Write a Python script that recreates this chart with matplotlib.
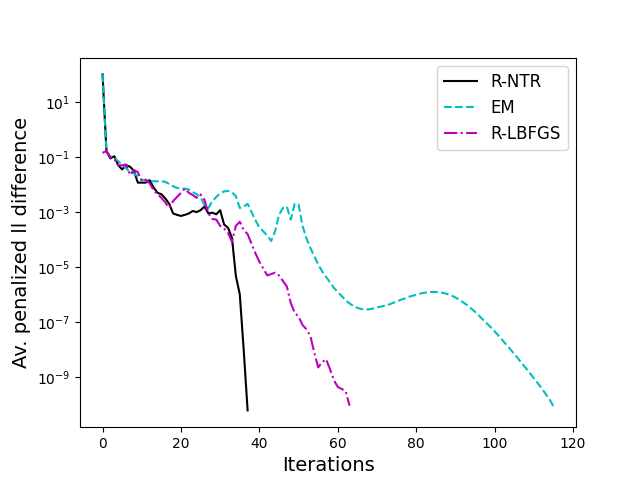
import numpy as np
import matplotlib
matplotlib.use("Agg")
import matplotlib.pyplot as plt

# log10 of the averaged penalized ll difference
rntr_log = [2.0, -0.8, -1.05, -0.97, -1.3, -1.45, -1.3, -1.35, -1.5, -1.93,
            -1.93, -1.93, -1.84, -2.1, -2.3, -2.35, -2.5, -2.7, -3.05, -3.1,
            -3.14, -3.1, -3.05, -2.96, -3.0, -2.93, -2.8, -3.05, -3.02, -3.08,
            -2.93, -3.45, -3.57, -3.93, -5.32, -5.98, -8.0, -10.2]

em_log = [2.0, -0.8, -1.0, -1.05, -1.15, -1.27, -1.4, -1.55, -1.6, -1.7,
          -1.82, -1.85, -1.87, -1.88, -1.88, -1.88, -1.9, -1.98, -2.06, -2.12,
          -2.15, -2.15, -2.18, -2.27, -2.35, -2.45, -2.75, -2.85, -2.6, -2.45,
          -2.32, -2.25, -2.23, -2.28, -2.42, -2.85, -2.8, -2.7, -3.0, -3.3,
          -3.55, -3.7, -3.85, -4.05, -3.7, -3.1, -2.85, -2.8, -3.27, -2.7,
          -2.72, -3.5, -3.95, -4.3, -4.6, -4.9, -5.15, -5.35, -5.55, -5.75,
          -5.9, -6.05, -6.2, -6.32, -6.41, -6.48, -6.52, -6.54, -6.53, -6.5,
          -6.46, -6.43, -6.4, -6.36, -6.3, -6.25, -6.19, -6.14, -6.08, -6.04,
          -6.0, -5.96, -5.93, -5.91, -5.9, -5.9, -5.91, -5.94, -5.98, -6.03,
          -6.1, -6.18, -6.28, -6.38, -6.5, -6.62, -6.76, -6.9, -7.04, -7.18,
          -7.33, -7.49, -7.65, -7.82, -7.98, -8.15, -8.32, -8.5, -8.67, -8.85,
          -9.03, -9.21, -9.4, -9.6, -9.8, -10.05]

lbfgs_log = [-0.85, -0.78, -1.0, -1.07, -1.3, -1.3, -1.27, -1.65, -1.47, -1.55,
             -1.88, -1.82, -1.95, -2.2, -2.35, -2.48, -2.65, -2.85, -2.6, -2.45,
             -2.3, -2.15, -2.3, -2.38, -2.48, -2.36, -2.55, -3.05, -3.25, -3.27,
             -3.5, -3.6, -3.75, -4.08, -3.5, -3.35, -3.65, -3.8, -4.15, -4.5,
             -4.8, -5.05, -5.3, -5.25, -5.2, -5.3, -5.5, -5.7, -6.3, -6.65,
             -6.8, -7.1, -7.25, -7.5, -8.1, -8.64, -8.45, -8.34, -8.7, -9.1,
             -9.35, -9.42, -9.5, -10.03]

fig, ax = plt.subplots(figsize=(6.4, 4.8), dpi=100)

ax.semilogy(np.arange(len(rntr_log)), 10.0 ** np.array(rntr_log), "k-", label="R-NTR")
ax.semilogy(np.arange(len(em_log)), 10.0 ** np.array(em_log), "c--", label="EM")
ax.semilogy(np.arange(len(lbfgs_log)), 10.0 ** np.array(lbfgs_log), "m-.", label="R-LBFGS")

ax.set_xlabel("Iterations", fontsize=14)
ax.set_ylabel("Av. penalized ll difference", fontsize=14)
ax.legend(fontsize=12)

fig.savefig("out.png")
